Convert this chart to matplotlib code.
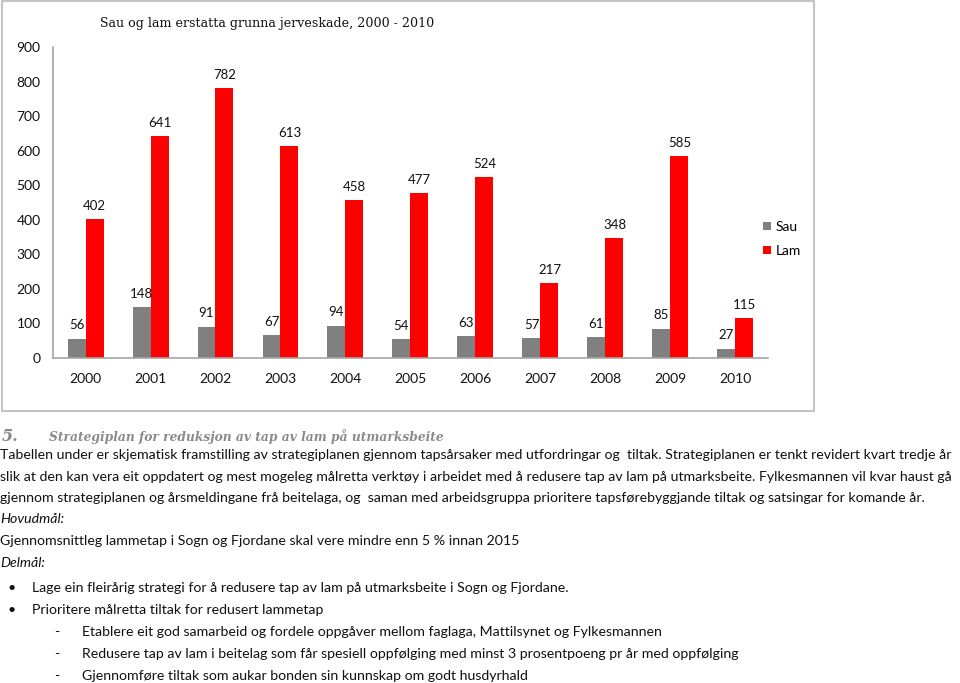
import numpy as np
import matplotlib.pyplot as plt
from matplotlib.patches import Rectangle

# data
years = ['2000', '2001', '2002', '2003', '2004', '2005', '2006', '2007', '2008', '2009', '2010']
sau = [56, 148, 91, 67, 94, 54, 63, 57, 61, 85, 27]
lam = [402, 641, 782, 613, 458, 477, 524, 217, 348, 585, 115]

title = 'Sau og lam erstatta grunna jerveskade, 2000 - 2010'
heading_no = '5.'
heading = 'Strategiplan for reduksjon av tap av lam på utmarksbeite'
body = [
    'Tabellen under er skjematisk framstilling av strategiplanen gjennom tapsårsaker med utfordringar og  tiltak. Strategiplanen er tenkt revidert kvart tredje år',
    'slik at den kan vera eit oppdatert og mest mogeleg målretta verktøy i arbeidet med å redusere tap av lam på utmarksbeite. Fylkesmannen vil kvar haust gå',
    'gjennom strategiplanen og årsmeldingane frå beitelaga, og  saman med arbeidsgruppa prioritere tapsførebyggjande tiltak og satsingar for komande år.',
]
hovudmaal = 'Gjennomsnittleg lammetap i Sogn og Fjordane skal vere mindre enn 5 % innan 2015'
delmaal = [
    'Lage ein fleirårig strategi for å redusere tap av lam på utmarksbeite i Sogn og Fjordane.',
    'Prioritere målretta tiltak for redusert lammetap',
]
tiltak = [
    'Etablere eit god samarbeid og fordele oppgåver mellom faglaga, Mattilsynet og Fylkesmannen',
    'Redusere tap av lam i beitelag som får spesiell oppfølging med minst 3 prosentpoeng pr år med oppfølging',
    'Gjennomføre tiltak som aukar bonden sin kunnskap om godt husdyrhald',
]

W, H = 960, 683
plt.rcParams['font.family'] = ['Lato', 'DejaVu Sans']

fig = plt.figure(figsize=(W / 100, H / 100), dpi=100)
r = fig.canvas.get_renderer()


def fx(px):
    return px / W


def fy(py):
    return 1 - py / H


def fit(x, y, s, width, **kw):
    # size the text so it spans the same width as in the picture
    t = fig.text(fx(x), fy(y), s, fontsize=10, **kw)
    w = t.get_window_extent(renderer=r).width
    t.set_fontsize(10 * width / w)
    return t


# chart frame
fig.patches.append(Rectangle((fx(2), fy(411)), fx(812), 410 / H, transform=fig.transFigure,
                             fill=False, edgecolor='#c4c4c4', lw=1.5))

ax = fig.add_axes([fx(53), fy(358), fx(768 - 53), (358 - 47) / H])
x = np.arange(len(years))
w = 18 / 65
b1 = ax.bar(x - w / 2, sau, w, color='#808080', label='Sau')
b2 = ax.bar(x + w / 2, lam, w, color='#ff0000', label='Lam')

for bars in (b1, b2):
    for rect in bars:
        ax.annotate(f'{rect.get_height():.0f}', (rect.get_x() + rect.get_width() / 2, rect.get_height()),
                    xytext=(0, 9.5), textcoords='offset points', ha='center', va='center',
                    fontsize=9.5, color='#111111')

ax.set_xlim(-0.5, len(years) - 0.5)
ax.set_ylim(0, 900)
ax.set_yticks(range(0, 901, 100))
ax.set_xticks(x)
ax.set_xticklabels(years)
for s in ('top', 'right'):
    ax.spines[s].set_visible(False)
for s in ('left', 'bottom'):
    ax.spines[s].set_color('#a6a6a6')
    ax.spines[s].set_linewidth(1.2)
ax.tick_params(axis='y', length=0, pad=9, labelsize=10, labelcolor='#111111')
ax.tick_params(axis='x', length=0, pad=11, labelsize=10, labelcolor='#111111')

ax.legend(loc='upper left', bbox_to_anchor=(fx(763), fy(221)), bbox_transform=fig.transFigure,
          frameon=False, fontsize=10, handlelength=0.55, handleheight=0.55, handletextpad=0.35,
          labelspacing=0.85, borderaxespad=0, borderpad=0)

fit(100, 27, title, 335, family='DejaVu Serif', color='#111111', va='baseline')

# text below the chart
fig.text(fx(2), fy(441), heading_no, family='DejaVu Serif', fontweight='bold', fontstyle='italic',
         color='#8a8a8a', fontsize=11.5, va='baseline')
fit(49, 441, heading, 394, family='DejaVu Serif', fontweight='bold', fontstyle='italic',
    color='#8a8a8a', va='baseline')

t0 = fit(0, 459, body[0], 950, color='#111111', va='baseline')
fs = t0.get_fontsize()
txt = dict(fontsize=fs, color='#111111', va='baseline')
fig.text(fx(0), fy(481), body[1], **txt)
fig.text(fx(0), fy(502), body[2], **txt)
fig.text(fx(0), fy(523), 'Hovudmål:', fontstyle='italic', **txt)
fig.text(fx(0), fy(545), hovudmaal, **txt)
fig.text(fx(0), fy(567), 'Delmål:', fontstyle='italic', **txt)
for yy, line in zip([592, 614], delmaal):
    fig.text(fx(12), fy(yy), '•', ha='center', **txt)
    fig.text(fx(32), fy(yy), line, **txt)
for yy, line in zip([636, 658, 680], tiltak):
    fig.text(fx(57), fy(yy), '-', ha='center', **txt)
    fig.text(fx(82), fy(yy), line, **txt)

fig.savefig('out.png', dpi=100)
